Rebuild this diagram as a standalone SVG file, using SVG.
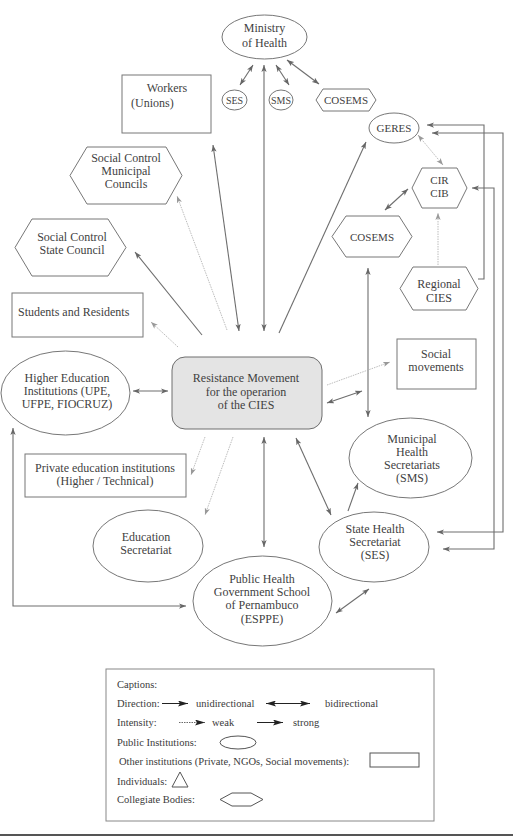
<svg xmlns="http://www.w3.org/2000/svg" width="513" height="837" viewBox="0 0 513 837">
<style>
  .t{font-family:"Liberation Serif","Times New Roman",serif;font-size:12px;fill:#3f3f3f;text-anchor:middle}
  .ts{font-size:11px}
  .tx{font-size:10px}
  .tl{text-anchor:start}
  .lg{font-family:"Liberation Serif","Times New Roman",serif;font-size:10.5px;fill:#3a3a3a}
  .n{fill:#fff;stroke:#777;stroke-width:1}
  .s{fill:none;stroke:#6e6e6e;stroke-width:1.1;marker-end:url(#ah)}
  .b{fill:none;stroke:#6e6e6e;stroke-width:1.1;marker-end:url(#ah);marker-start:url(#ah)}
  .w{fill:none;stroke:#ababab;stroke-width:0.8;stroke-dasharray:1.5 1;marker-end:url(#aw)}
  .wb{fill:none;stroke:#ababab;stroke-width:0.8;stroke-dasharray:1.5 1;marker-end:url(#aw);marker-start:url(#aw)}
</style>
<defs>
  <marker id="ah" viewBox="0 0 8 6" refX="8" refY="3" markerWidth="7" markerHeight="5.5" markerUnits="userSpaceOnUse" orient="auto-start-reverse">
    <path d="M0,0 L8,3 L0,6 L2,3 z" fill="#666"/>
  </marker>
  <marker id="aw" viewBox="0 0 8 6" refX="8" refY="3" markerWidth="7" markerHeight="5.5" markerUnits="userSpaceOnUse" orient="auto-start-reverse">
    <path d="M0,0 L8,3 L0,6 L2,3 z" fill="#999"/>
  </marker>
  <marker id="lk" viewBox="0 0 10 6" refX="10" refY="3" markerWidth="10" markerHeight="6" markerUnits="userSpaceOnUse" orient="auto-start-reverse">
    <path d="M0,0 L10,3 L0,6 L2,3 z" fill="#222"/>
  </marker>
</defs>

<g id="connectors">
  <line class="b" x1="264" y1="65" x2="264" y2="331"/>
  <line class="b" x1="253" y1="65" x2="240" y2="85"/>
  <line class="b" x1="276" y1="65" x2="289" y2="85"/>
  <line class="b" x1="287" y1="60" x2="319" y2="84"/>
  <line class="b" x1="239" y1="331" x2="213" y2="145"/>
  <line class="w" x1="227" y1="330" x2="177" y2="196"/>
  <line class="s" x1="202" y1="335" x2="135" y2="252"/>
  <line class="w" x1="178" y1="347" x2="151" y2="322"/>
  <line class="s" x1="279" y1="333" x2="366" y2="142"/>
  <line class="wb" x1="418" y1="135" x2="443" y2="165"/>
  <line class="b" x1="408" y1="189" x2="385" y2="210"/>
  <line class="w" x1="438" y1="265" x2="438" y2="213"/>
  <polyline class="s" points="478,279 484,279 484,125 427,125"/>
  <polyline class="b" points="437,532 503,532 503,133 432,133"/>
  <polyline class="b" points="443,549 494,549 494,188 472,188"/>
  <line class="b" x1="368" y1="268" x2="368" y2="417"/>
  <line class="w" x1="327" y1="385" x2="390" y2="362"/>
  <line class="b" x1="327" y1="403" x2="362" y2="391"/>
  <line class="b" x1="133" y1="391" x2="168" y2="391"/>
  <line class="w" x1="205" y1="437" x2="191" y2="475"/>
  <line class="w" x1="233" y1="437" x2="205" y2="515"/>
  <line class="b" x1="264" y1="437" x2="264" y2="547"/>
  <line class="b" x1="296" y1="438" x2="331" y2="515"/>
  <line class="s" x1="348" y1="511" x2="358" y2="483"/>
  <line class="b" x1="336" y1="613" x2="369" y2="589"/>
  <polyline class="b" points="13,428 13,606 186,606"/>
</g>

<g id="ministry">
  <ellipse class="n" cx="264.5" cy="37" rx="42.5" ry="22"/>
  <text class="t" x="264.5" y="32">Ministry</text>
  <text class="t" x="264.5" y="47">of Health</text>
</g>
<g id="ses-small">
  <ellipse class="n" cx="234.5" cy="100" rx="12.5" ry="10"/>
  <text class="t tx" x="234.5" y="103.5">SES</text>
</g>
<g id="sms-small">
  <ellipse class="n" cx="281" cy="100" rx="12" ry="10"/>
  <text class="t tx" x="281" y="103.5">SMS</text>
</g>
<g id="cosems-top">
  <polygon class="n" points="316,100 323,89 369,89 376,100 369,111 323,111"/>
  <text class="t ts" x="346" y="104">COSEMS</text>
</g>
<g id="workers">
  <rect class="n" x="122" y="75" width="89" height="58"/>
  <text class="t" x="167" y="92">Workers</text>
  <text class="t tl" x="131" y="107">(Unions)</text>
</g>
<g id="geres">
  <ellipse class="n" cx="394" cy="128" rx="25" ry="15"/>
  <text class="t ts" x="394" y="132">GERES</text>
</g>
<g id="cir-cib">
  <polygon class="n" points="412,188 422,168 457,168 467,188 457,208 422,208"/>
  <text class="t ts" x="439.5" y="184">CIR</text>
  <text class="t ts" x="439.5" y="197">CIB</text>
</g>
<g id="cosems-mid">
  <polygon class="n" points="332,236.5 346,216 399,216 412,236.5 399,257 346,257"/>
  <text class="t ts" x="372" y="241">COSEMS</text>
</g>
<g id="regional-cies">
  <polygon class="n" points="400,288.5 413,267 466,267 478,288.5 466,310 413,310"/>
  <text class="t" x="439" y="288">Regional</text>
  <text class="t" x="439" y="302">CIES</text>
</g>
<g id="sc-municipal">
  <polygon class="n" points="70,175.5 87,147 166,147 182,175.5 166,204 87,204"/>
  <text class="t" x="126" y="162">Social Control</text>
  <text class="t" x="126" y="175">Municipal</text>
  <text class="t" x="126" y="188">Councils</text>
</g>
<g id="sc-state">
  <polygon class="n" points="15,247.5 32,219 108,219 126,247.5 108,276 32,276"/>
  <text class="t" x="72" y="241">Social Control</text>
  <text class="t" x="72" y="254">State Council</text>
</g>
<g id="students">
  <rect class="n" x="12" y="293" width="131" height="44"/>
  <text class="t tl" x="18" y="316">Students and Residents</text>
</g>
<g id="center">
  <rect x="172" y="357" width="150" height="72" rx="13" fill="#e4e4e4" stroke="#6e6e6e" stroke-width="1"/>
  <text class="t" x="246" y="382">Resistance Movement</text>
  <text class="t" x="246" y="396">for the operarion</text>
  <text class="t" x="246" y="409">of the CIES</text>
</g>
<g id="hei">
  <ellipse class="n" cx="65.5" cy="393" rx="64.5" ry="42"/>
  <text class="t" x="67" y="382">Higher Education</text>
  <text class="t" x="67" y="395">Institutions (UPE,</text>
  <text class="t" x="67" y="408">UFPE, FIOCRUZ)</text>
</g>
<g id="social-movements">
  <rect class="n" x="397" y="339" width="79" height="50"/>
  <text class="t" x="436" y="358">Social</text>
  <text class="t" x="436" y="371">movements</text>
</g>
<g id="municipal-sms">
  <ellipse class="n" cx="410.5" cy="458" rx="61.5" ry="40"/>
  <text class="t" x="412" y="443">Municipal</text>
  <text class="t" x="412" y="456">Health</text>
  <text class="t" x="412" y="469">Secretariats</text>
  <text class="t" x="412" y="482">(SMS)</text>
</g>
<g id="private-edu">
  <rect class="n" x="25" y="454" width="161" height="43"/>
  <text class="t" x="105" y="472">Private education institutions</text>
  <text class="t" x="105" y="485">(Higher / Technical)</text>
</g>
<g id="education-sec">
  <ellipse class="n" cx="148" cy="546" rx="55" ry="36"/>
  <text class="t" x="146" y="541">Education</text>
  <text class="t" x="146" y="554">Secretariat</text>
</g>
<g id="state-ses">
  <ellipse class="n" cx="374" cy="547" rx="55" ry="35"/>
  <text class="t" x="375" y="533">State Health</text>
  <text class="t" x="375" y="546">Secretariat</text>
  <text class="t" x="375" y="559">(SES)</text>
</g>
<g id="esppe">
  <ellipse class="n" cx="262.5" cy="601" rx="69.5" ry="45"/>
  <text class="t" x="262" y="583">Public Health</text>
  <text class="t" x="262" y="596">Government School</text>
  <text class="t" x="262" y="609">of Pernambuco</text>
  <text class="t" x="262" y="623">(ESPPE)</text>
</g>

<g id="legend">
  <rect x="106" y="669" width="328" height="152" fill="#fff" stroke="#888" stroke-width="1"/>
  <text class="lg" x="117" y="688">Captions:</text>
  <text class="lg" x="117" y="707">Direction:</text>
  <line x1="162" y1="703.5" x2="188" y2="703.5" stroke="#222" stroke-width="1" marker-end="url(#lk)"/>
  <text class="lg" x="196" y="707">unidirectional</text>
  <line x1="266" y1="703.5" x2="310" y2="703.5" stroke="#222" stroke-width="1" marker-end="url(#lk)" marker-start="url(#lk)"/>
  <text class="lg" x="325" y="707">bidirectional</text>
  <text class="lg" x="117" y="726">Intensity:</text>
  <line x1="179" y1="722.5" x2="205" y2="722.5" stroke="#444" stroke-width="0.8" stroke-dasharray="1.5 1" marker-end="url(#lk)"/>
  <text class="lg" x="212" y="726">weak</text>
  <line x1="257" y1="722.5" x2="283" y2="722.5" stroke="#222" stroke-width="1" marker-end="url(#lk)"/>
  <text class="lg" x="293" y="726">strong</text>
  <text class="lg" x="117" y="746">Public Institutions:</text>
  <ellipse cx="238" cy="742.5" rx="18" ry="6.5" fill="none" stroke="#555" stroke-width="1"/>
  <text class="lg" x="119" y="765">Other institutions (Private, NGOs, Social movements):</text>
  <rect x="370" y="753" width="49" height="14" fill="none" stroke="#555" stroke-width="1"/>
  <text class="lg" x="117" y="785">Individuals:</text>
  <polygon points="172,787 188,787 180,772" fill="none" stroke="#555" stroke-width="1"/>
  <text class="lg" x="117" y="803">Collegiate Bodies:</text>
  <polygon points="220,799.5 232,793 251,793 263,799.5 251,806 232,806" fill="none" stroke="#555" stroke-width="1"/>
</g>
<line x1="0" y1="835" x2="513" y2="835" stroke="#555" stroke-width="2"/>
</svg>
